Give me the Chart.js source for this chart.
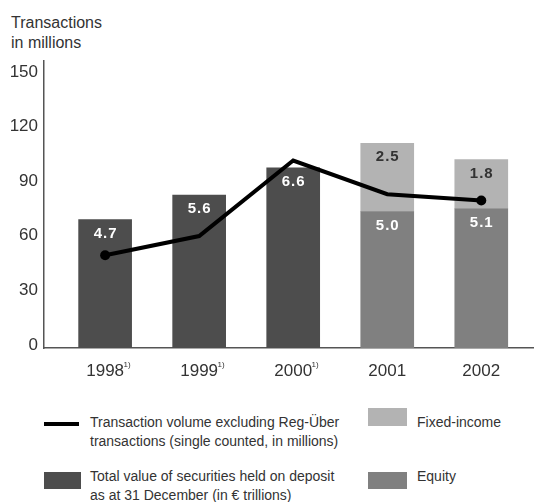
<!DOCTYPE html>
<html>
<head>
<meta charset="utf-8">
<script src="https://cdn.jsdelivr.net/npm/chart.js@4/dist/chart.umd.min.js"></script>
<style>
  body { margin: 0; background: #fff; font-family: "Liberation Sans", Arial, sans-serif; color: #333; overflow: hidden; }
  .wrap { position: relative; width: 538px; height: 502px; overflow: hidden; }
  #chart { position: absolute; left: 0; top: 0; }
  .txt { position: absolute; font-size: 14px; line-height: 19px; color: #333; white-space: nowrap; }
  .title { position: absolute; left: 11px; top: 13px; font-size: 16px; line-height: 20px; color: #333; }
  .sw { position: absolute; }
</style>
</head>
<body>
<div class="wrap">
  <div class="title">Transactions<br>in millions</div>
  <canvas id="chart" width="538" height="395"></canvas>

  <div class="sw" style="left:44px;top:422px;width:35px;height:4px;background:#000"></div>
  <div class="txt" style="left:90px;top:413px">Transaction volume excluding Reg-Über<br>transactions (single counted, in millions)</div>
  <div class="sw" style="left:368px;top:408px;width:39px;height:18px;background:#b3b3b3"></div>
  <div class="txt" style="left:417px;top:413px">Fixed-income</div>

  <div class="sw" style="left:44px;top:472px;width:37px;height:17px;background:#4d4d4d"></div>
  <div class="txt" style="left:90px;top:467px">Total value of securities held on deposit<br>as at 31 December (in € trillions)</div>
  <div class="sw" style="left:368px;top:472px;width:39px;height:17px;background:#808080"></div>
  <div class="txt" style="left:417px;top:467px">Equity</div>
</div>

<script>
var years = ['1998', '1999', '2000', '2001', '2002'];
var footnotes = ['1)', '1)', '1)', '', ''];

// transactions, millions (left axis)
var transactions = [51, 61.5, 103, 84.5, 81];

// securities on deposit, € trillions
var totalDeposit = [4.7, 5.6, 6.6, null, null];
var equity = [null, null, null, 5.0, 5.1];
var fixedIncome = [null, null, null, 2.5, 1.8];

var yTicks = [0, 30, 60, 90, 120, 150];
var yMax = 157.7;
var trillionsPerMillion = 15; // 1 € trillion drawn as 15 on the transactions axis

var tickFont = '"Liberation Sans", Arial, sans-serif';

function points(values) {
  return values.map(function (v, i) { return { x: i, y: v }; });
}

var barLabels = {
  id: 'barLabels',
  afterDatasetsDraw: function (chart) {
    var ctx = chart.ctx;
    chart.data.datasets.forEach(function (ds, di) {
      if (ds.type !== 'bar') return;
      var meta = chart.getDatasetMeta(di);
      meta.data.forEach(function (el, i) {
        var v = ds.data[i].y;
        if (v == null) return;
        ctx.save();
        ctx.font = 'bold 15px ' + tickFont;
        ctx.letterSpacing = '1px';
        ctx.fillStyle = ds.labelColor;
        ctx.textAlign = 'center';
        ctx.textBaseline = 'middle';
        ctx.fillText(v.toFixed(1), el.x + 0.5, el.y + 14);
        ctx.restore();
      });
    });
  }
};

// small superscript footnote marks after the year labels
var yearNotes = {
  id: 'yearNotes',
  afterDraw: function (chart) {
    var ctx = chart.ctx;
    var xs = chart.scales.x;
    ctx.save();
    ctx.font = '17px ' + tickFont;
    var w = ctx.measureText('1998').width;
    ctx.font = '8px ' + tickFont;
    ctx.fillStyle = '#333';
    ctx.textAlign = 'left';
    ctx.textBaseline = 'top';
    footnotes.forEach(function (f, i) {
      if (!f) return;
      ctx.fillText(f, xs.getPixelForValue(i) + w / 2 - 0.5, xs.bottom - 34);
    });
    ctx.restore();
  }
};

new Chart(document.getElementById('chart'), {
  type: 'bar',
  data: {
    datasets: [
      {
        type: 'line',
        data: points(transactions),
        yAxisID: 'y',
        borderColor: '#000',
        backgroundColor: '#000',
        borderWidth: 4,
        pointRadius: [5, 0, 0, 0, 5],
        pointBackgroundColor: '#000',
        pointBorderWidth: 0,
        tension: 0,
        order: 0
      },
      {
        type: 'bar',
        data: points(totalDeposit),
        yAxisID: 'y2',
        backgroundColor: '#4d4d4d',
        labelColor: '#fff',
        stack: 's',
        grouped: false,
        barThickness: 53,
        order: 1
      },
      {
        type: 'bar',
        data: points(equity),
        yAxisID: 'y2',
        backgroundColor: '#808080',
        labelColor: '#fff',
        stack: 's',
        grouped: false,
        barThickness: 53,
        order: 1
      },
      {
        type: 'bar',
        data: points(fixedIncome),
        yAxisID: 'y2',
        backgroundColor: '#b3b3b3',
        labelColor: '#333',
        stack: 's',
        grouped: false,
        barThickness: 53,
        order: 1
      }
    ]
  },
  options: {
    responsive: false,
    animation: false,
    layout: { padding: { top: 61, left: 0, right: 0, bottom: 0 } },
    plugins: {
      legend: { display: false },
      tooltip: { enabled: false }
    },
    scales: {
      x: {
        type: 'linear',
        offset: false,
        min: -0.65,
        max: 4.55,
        grid: { color: 'transparent', drawTicks: false },
        border: { display: true, color: '#555', width: 1.5 },
        ticks: {
          stepSize: 1,
          includeBounds: false,
          autoSkip: false,
          maxRotation: 0,
          padding: 13,
          color: '#333',
          font: { family: tickFont, size: 17 },
          callback: function (v) { return years[v] || ''; }
        },
        afterFit: function (scale) { scale.height = 47; }
      },
      y: {
        min: 0,
        max: yMax,
        grid: { color: 'transparent', drawTicks: false },
        border: { display: true, color: '#555', width: 1.5 },
        afterBuildTicks: function (scale) {
          scale.ticks = yTicks.map(function (v) { return { value: v }; });
        },
        ticks: {
          padding: 6,
          labelOffset: -3,
          color: '#333',
          font: { family: tickFont, size: 17 }
        },
        afterFit: function (scale) { scale.width = 44; }
      },
      y2: {
        display: false,
        stacked: true,
        min: 0,
        max: yMax / trillionsPerMillion
      }
    }
  },
  plugins: [barLabels, yearNotes]
});
</script>
</body>
</html>
